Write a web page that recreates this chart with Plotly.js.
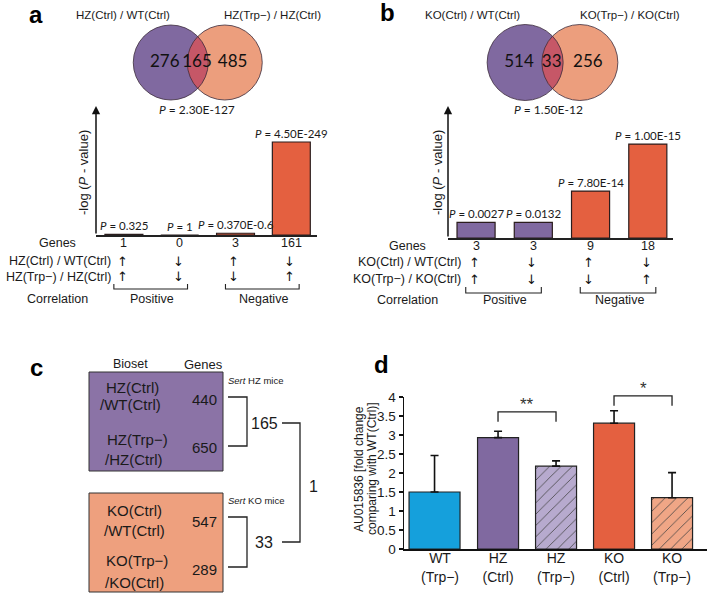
<!DOCTYPE html>
<html><head><meta charset="utf-8">
<script src="https://cdn.plot.ly/plotly-3.0.1.min.js"></script>
<style>html,body{margin:0;padding:0;background:#fff}#chart{width:709px;height:594px}</style>
</head><body><div id="chart"></div>
<script>
// ---------------- data ----------------
const vennATitles = ['HZ(Ctrl) / WT(Ctrl)', 'HZ(Trp−) / HZ(Ctrl)'];
const vennACounts = [276, 165, 485];
const vennAP = '2.30E-127';
const vennBTitles = ['KO(Ctrl) / WT(Ctrl)', 'KO(Trp−) / KO(Ctrl)'];
const vennBCounts = [514, 33, 256];
const vennBP = '1.50E-12';

const corrRowLabelsA = ['HZ(Ctrl) / WT(Ctrl)', 'HZ(Trp−) / HZ(Ctrl)'];
const corrGenesA = [1, 0, 3, 161];
const corrPA = ['0.325', '1', '0.370E-0.6', '4.50E-249'];
const corrDir1A = ['↑', '↓', '↑', '↓'];
const corrDir2A = ['↑', '↓', '↓', '↑'];

const corrRowLabelsB = ['KO(Ctrl) / WT(Ctrl)', 'KO(Trp−) / KO(Ctrl)'];
const corrGenesB = [3, 3, 9, 18];
const corrPB = ['0.0027', '0.0132', '7.80E-14', '1.00E-15'];
const corrDir1B = ['↑', '↓', '↑', '↓'];
const corrDir2B = ['↑', '↓', '↓', '↑'];
const corrGroups = ['Positive', 'Negative'];

const biosetsHZ = [['HZ(Ctrl)', '/WT(Ctrl)'], ['HZ(Trp−)', '/HZ(Ctrl)']];
const genesHZ = [440, 650];
const biosetsKO = [['KO(Ctrl)', '/WT(Ctrl)'], ['KO(Trp−)', '/KO(Ctrl)']];
const genesKO = [547, 289];
const overlapHZ = 165, overlapKO = 33, overlapAll = 1;

const dCategories = ['WT<br>(Trp−)', 'HZ<br>(Ctrl)', 'HZ<br>(Trp−)', 'KO<br>(Ctrl)', 'KO<br>(Trp−)'];
const dMeans = [1.5, 2.93, 2.18, 3.31, 1.35];
const dErrors = [0.96, 0.17, 0.14, 0.33, 0.66];
const dSigPairs = [[1, 2], [3, 4]];
const dSigLabels = ['**', '*'];
const dSigLevels = [3.61, 4.03];

// ---------------- styling / helpers ----------------
const W = 709, H = 594;
const px = x => x / W;
const py = y => 1 - y / H;
const PURPLE = '#8069A0', ORANGE = '#E46040', SALMON = '#EC9E7D', LENS = '#C65767';
const BOXP = '#8B73A6', BOXO = '#EEA07E';
const DCOL = ['#15A0DC', '#8069A0', '#B7AACE', '#E46040', '#F0A686'];
const DPAT = ['', '', '/', '', '/'];
const SANS = 'Liberation Sans, Arial, sans-serif';
const CAL = 'Lato, Liberation Sans, sans-serif';
const ARW = "'DejaVu Sans', 'Liberation Sans', sans-serif";
const INK = '#1a1a1a';

const ann = [];
const shapes = [];
function txt(x, y, text, size, opts) {
  ann.push(Object.assign({xref: 'paper', yref: 'paper', x: px(x), y: py(y), text: text, showarrow: false,
    font: {size: size, color: INK, family: SANS}, xanchor: 'center', yanchor: 'middle'}, opts || {}));
}
function pline(pts, xref, yref, w) {
  shapes.push({type: 'path', xref: xref, yref: yref,
    path: 'M' + pts.map(p => p[0] + ',' + p[1]).join('L'), line: {color: '#222', width: w || 1.3}});
}
const noAx = {showgrid: false, zeroline: false, showticklabels: false, ticks: '', fixedrange: true};

// ---------------- Venn diagrams ----------------
const VD = 0.72;
function lensPath(d, n) {
  const a = Math.acos(d), pts = [];
  for (let k = 0; k <= n; k++) { const t = a - 2 * a * k / n; pts.push([-d + Math.cos(t), Math.sin(t)]); }
  for (let k = 0; k <= n; k++) { const t = Math.PI + a - 2 * a * k / n; pts.push([d + Math.cos(t), Math.sin(t)]); }
  return 'M' + pts.map(p => p[0].toFixed(4) + ',' + p[1].toFixed(4)).join('L') + 'Z';
}
function venn(xa, ya) {
  shapes.push({type: 'circle', xref: xa, yref: ya, x0: -VD - 1, x1: -VD + 1, y0: -1, y1: 1, fillcolor: PURPLE, line: {width: 0}, layer: 'below'});
  shapes.push({type: 'circle', xref: xa, yref: ya, x0: VD - 1, x1: VD + 1, y0: -1, y1: 1, fillcolor: SALMON, line: {width: 0}, layer: 'below'});
  shapes.push({type: 'path', xref: xa, yref: ya, path: lensPath(VD, 40), fillcolor: LENS, line: {width: 0}, layer: 'below'});
  shapes.push({type: 'circle', xref: xa, yref: ya, x0: -VD - 1, x1: -VD + 1, y0: -1, y1: 1, line: {color: '#3b2b3b', width: 0.8}, layer: 'below'});
  shapes.push({type: 'circle', xref: xa, yref: ya, x0: VD - 1, x1: VD + 1, y0: -1, y1: 1, line: {color: '#3b2b3b', width: 0.8}, layer: 'below'});
}
venn('x3', 'y3');
venn('x4', 'y4');
const vennTextX = [-0.88, -0.02, 0.93];

// ---------------- traces ----------------
const idx4 = corrGenesA.map((_, i) => i);
const traces = [
  {type: 'bar', x: idx4, y: corrGenesA, xaxis: 'x', yaxis: 'y', width: 0.68,
   marker: {color: [PURPLE, PURPLE, ORANGE, ORANGE], line: {color: '#2b1d1d', width: 1.2}}, hoverinfo: 'skip'},
  {type: 'bar', x: idx4, y: corrGenesB, xaxis: 'x2', yaxis: 'y2', width: 0.665,
   marker: {color: [PURPLE, PURPLE, ORANGE, ORANGE], line: {color: '#2b1d1d', width: 1.2}}, hoverinfo: 'skip'},
  {type: 'scatter', mode: 'text', x: vennTextX, y: [0, 0, 0], text: vennACounts.map(String), xaxis: 'x3', yaxis: 'y3',
   textfont: {family: CAL, size: 17, color: '#111'}, hoverinfo: 'skip', cliponaxis: false},
  {type: 'scatter', mode: 'text', x: vennTextX, y: [0, 0, 0], text: vennBCounts.map(String), xaxis: 'x4', yaxis: 'y4',
   textfont: {family: CAL, size: 17, color: '#111'}, hoverinfo: 'skip', cliponaxis: false},
  {type: 'bar', x: dMeans.map((_, i) => i), y: dMeans, xaxis: 'x5', yaxis: 'y5',
   width: [0.879, 0.707, 0.707, 0.707, 0.707], offset: [-0.534, -0.353, -0.353, -0.353, -0.353],
   marker: {color: DCOL, line: {color: '#222', width: 1.2},
            pattern: {shape: DPAT, fgcolor: '#3a3a3a', fgopacity: 1, size: 8, solidity: 0.1, fillmode: 'overlay'}},
   error_y: {type: 'data', symmetric: false, array: dErrors, arrayminus: dErrors.map(() => 0), color: '#111', thickness: 1.6, width: 4},
   hoverinfo: 'skip'}
];

// ---------------- panel letters ----------------
const letterFont = {family: SANS, size: 24, color: '#000', weight: 'bold'};
txt(36, 14, '<b>a</b>', 24, {font: letterFont});
txt(387, 13, '<b>b</b>', 24, {font: letterFont});
txt(36, 367, '<b>c</b>', 24, {font: letterFont});
txt(381, 364, '<b>d</b>', 24, {font: letterFont});

// ---------------- Venn labels ----------------
txt(123, 15, vennATitles[0], 11.5);
txt(272, 15, vennATitles[1], 11.5);
txt(197, 110, '<i>P</i> = ' + vennAP, 12, {font: {family: CAL, size: 12, color: INK}});
txt(472, 15, vennBTitles[0], 11.5);
txt(630, 15, vennBTitles[1], 11.5);
txt(548, 110, '<i>P</i> = ' + vennBP, 12, {font: {family: CAL, size: 12, color: INK}});

// ---------------- correlation bar panels ----------------
function corrPanel(xa, ya, yTop, genes, pv, dir1, dir2, rowLabels, cfg) {
  ann.push({xref: xa, yref: ya, x: cfg.x0, y: yTop, ax: 0, ay: cfg.h, text: '', showarrow: true,
            arrowhead: 2, arrowsize: 1.1, arrowwidth: 1.5, arrowcolor: '#111', standoff: 0, startstandoff: 0});
  txt(cfg.ylabX, 173, '-log (<i>P</i> - value)', 13, {textangle: -90});
  genes.forEach((g, i) => {
    ann.push({xref: xa, yref: ya, x: i, y: g, yanchor: 'bottom', yshift: 0, showarrow: false,
              text: '<i>P</i> = ' + pv[i], font: {family: CAL, size: 11.5, color: INK}});
    ann.push({xref: xa, yref: 'paper', x: i, y: py(cfg.rows[0]), showarrow: false, text: String(g), font: {family: SANS, size: 12.5, color: INK}});
    ann.push({xref: xa, yref: 'paper', x: i - 0.03, y: py(cfg.rows[1]), showarrow: false, text: dir1[i] + '\uFE0E', font: {family: ARW, size: 13, color: '#111'}});
    ann.push({xref: xa, yref: 'paper', x: i - 0.03, y: py(cfg.rows[2]), showarrow: false, text: dir2[i] + '\uFE0E', font: {family: ARW, size: 13, color: '#111'}});
  });
  txt(cfg.genesX, cfg.rows[0], 'Genes', 12.5);
  txt(cfg.labR, cfg.rows[1], rowLabels[0], 12.5, {xanchor: 'right'});
  txt(cfg.labR, cfg.rows[2], rowLabels[1], 12.5, {xanchor: 'right'});
  [[0, 1], [2, 3]].forEach((g, k) => {
    const xl = g[0] - 0.18, xr = g[1] + 0.14;
    pline([[xl, py(cfg.br[0])], [xl, py(cfg.br[1])], [xr, py(cfg.br[1])], [xr, py(cfg.br[0])]], xa, 'paper', 1.1);
    ann.push({xref: xa, yref: 'paper', x: (g[0] + g[1]) / 2, y: py(cfg.rows[3]), showarrow: false,
              text: corrGroups[k], font: {family: SANS, size: 12.5, color: INK}});
  });
  txt(cfg.genesX, cfg.rows[3], 'Correlation', 12.5);
}
corrPanel('x', 'y', 223.3, corrGenesA, corrPA, corrDir1A, corrDir2A, corrRowLabelsA,
  {x0: -0.5, h: 129, ylabX: 83, genesX: 57, labR: 113, rows: [243, 261, 277, 299], br: [284, 289]});
corrPanel('x2', 'y2', 25.3, corrGenesB, corrPB, corrDir1B, corrDir2B, corrRowLabelsB,
  {x0: -0.49, h: 132, ylabX: 437, genesX: 407, labR: 463, rows: [246, 262, 279, 300], br: [287, 293]});

// ---------------- panel c ----------------
shapes.push({type: 'rect', xref: 'paper', yref: 'paper', x0: px(89), x1: px(223), y0: py(471), y1: py(372), fillcolor: BOXP, line: {color: '#333', width: 1}});
shapes.push({type: 'rect', xref: 'paper', yref: 'paper', x0: px(89), x1: px(223), y0: py(592), y1: py(493), fillcolor: BOXO, line: {color: '#333', width: 1}});
txt(130, 364, 'Bioset', 12.5);
txt(203, 364, 'Genes', 13);
const cFont = 15;
txt(132, 387, biosetsHZ[0][0], cFont); txt(130, 404, biosetsHZ[0][1], cFont); txt(204, 399, String(genesHZ[0]), cFont);
txt(137, 439, biosetsHZ[1][0], cFont); txt(133, 459, biosetsHZ[1][1], cFont); txt(204, 447, String(genesHZ[1]), cFont);
txt(134, 510, biosetsKO[0][0], cFont); txt(134, 530, biosetsKO[0][1], cFont); txt(204, 521, String(genesKO[0]), cFont);
txt(137, 560, biosetsKO[1][0], cFont); txt(134, 582, biosetsKO[1][1], cFont); txt(204, 569, String(genesKO[1]), cFont);
txt(226, 380, '<i>Sert</i> HZ mice', 9.5, {xanchor: 'left'});
txt(226, 500, '<i>Sert</i> KO mice', 9.5, {xanchor: 'left'});
pline([[px(228), py(397)], [px(247), py(397)], [px(247), py(446)], [px(228), py(446)]], 'paper', 'paper', 1.3);
pline([[px(228), py(517)], [px(247), py(517)], [px(247), py(567)], [px(228), py(567)]], 'paper', 'paper', 1.3);
pline([[px(282), py(423)], [px(300), py(423)], [px(300), py(542)], [px(282), py(542)]], 'paper', 'paper', 1.3);
txt(264, 423, String(overlapHZ), 16);
txt(264, 542, String(overlapKO), 16);
txt(313, 486, String(overlapAll), 16);

// ---------------- panel d ----------------
const d0 = 549, dPx = 38; // y5 axis: pixel of 0 and px per unit (matches yaxis5 domain/range)
dSigPairs.forEach((s, k) => {
  const yHi = py(d0 - dPx * dSigLevels[k]), yLo = py(d0 - dPx * (dSigLevels[k] - 0.26));
  pline([[s[0], yLo], [s[0], yHi], [s[1], yHi], [s[1], yLo]], 'x5', 'paper', 1.3);
  ann.push({xref: 'x5', yref: 'paper', x: (s[0] + s[1]) / 2, y: yHi, yanchor: 'bottom', yshift: -4, showarrow: false,
            text: dSigLabels[k], font: {family: SANS, size: 17, color: '#333'}});
});
txt(359, 469, 'AU015836 [fold change', 12, {textangle: -90});
txt(372, 469, 'comparing with WT(Ctrl)]', 12, {textangle: -90});

const layout = {
  width: W, height: H, margin: {l: 0, r: 0, t: 0, b: 0}, paper_bgcolor: '#fff', plot_bgcolor: 'rgba(0,0,0,0)',
  showlegend: false, font: {family: SANS, color: INK},
  xaxis: Object.assign({}, noAx, {domain: [px(96), px(317)], range: [-0.5, 3.46], anchor: 'y', showline: true, linecolor: '#222', linewidth: 1.5}),
  yaxis: Object.assign({}, noAx, {domain: [py(235), py(106)], range: [0, 223.3], anchor: 'x'}),
  xaxis2: Object.assign({}, noAx, {domain: [px(448), px(673)], range: [-0.49, 3.44], anchor: 'y2', showline: true, linecolor: '#222', linewidth: 1.5}),
  yaxis2: Object.assign({}, noAx, {domain: [py(238), py(106)], range: [0, 25.3], anchor: 'x2'}),
  xaxis3: Object.assign({}, noAx, {domain: [px(197.75 - 75), px(197.75 + 75)], range: [-2, 2], anchor: 'y3'}),
  yaxis3: Object.assign({}, noAx, {domain: [py(62.5 + 45), py(62.5 - 45)], range: [-1.2, 1.2], anchor: 'x3'}),
  xaxis4: Object.assign({}, noAx, {domain: [px(552.5 - 76), px(552.5 + 76)], range: [-2, 2], anchor: 'y4'}),
  yaxis4: Object.assign({}, noAx, {domain: [py(62.5 + 45.6), py(62.5 - 45.6)], range: [-1.2, 1.2], anchor: 'x4'}),
  xaxis5: {domain: [px(404), px(707)], range: [-0.621, 4.603], anchor: 'y5', showgrid: false, zeroline: false,
           tickvals: dCategories.map((_, i) => i), ticktext: dCategories, ticks: '', showline: true, linecolor: '#111', linewidth: 1.5,
           ticklabelstandoff: -4, tickfont: {family: SANS, size: 14, color: INK}, fixedrange: true},
  yaxis5: {domain: [py(549), py(397)], range: [0, 4], anchor: 'x5', showgrid: false, zeroline: false, dtick: 0.5,
           ticks: 'outside', ticklen: 4, tickwidth: 1.2, tickcolor: '#111', showline: true, linecolor: '#111', linewidth: 1.5,
           tickfont: {family: SANS, size: 13.5, color: INK}, fixedrange: true},
  annotations: ann, shapes: shapes, bargap: 0
};
Plotly.newPlot('chart', traces, layout, {displayModeBar: false, staticPlot: true});
</script></body></html>
